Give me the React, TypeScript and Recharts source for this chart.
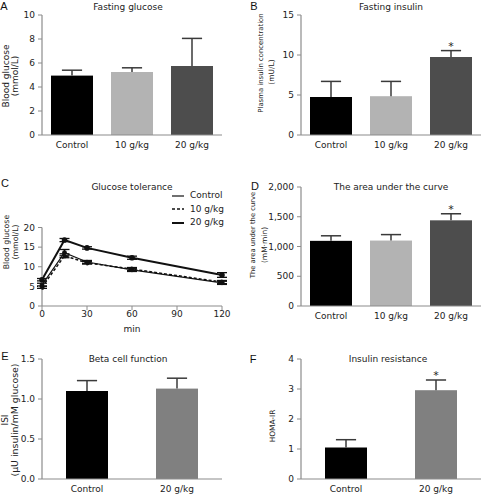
import { Bar, BarChart, ErrorBar, Legend, Line, LineChart, XAxis, YAxis } from "recharts";

const FONT = "'DejaVu Sans', Verdana, sans-serif";
const INK = "#222";
const AXIS = "#8c8c8c";

// groups
const groups3 = ["Control", "10 g/kg", "20 g/kg"];
const groups2 = ["Control", "20 g/kg"];

// A: fasting glucose (mmol/L)
const glucoseMean = [4.95, 5.25, 5.75];
const glucoseErr = [0.45, 0.35, 2.3];
// B: fasting insulin (mU/L)
const insulinMean = [4.75, 4.85, 9.75];
const insulinErr = [1.95, 1.85, 0.8];
// D: area under the curve
const aucMean = [1095, 1100, 1440];
const aucErr = [85, 100, 110];
// E: ISI
const isiMean = [1.1, 1.13];
const isiErr = [0.13, 0.13];
// F: HOMA-IR
const homaMean = [1.05, 2.96];
const homaErr = [0.26, 0.34];

const stars3 = [false, false, true];
const stars2 = [false, true];
const noStars3 = [false, false, false];
const noStars2 = [false, false];

// C: glucose tolerance
const minutes = [0, 15, 30, 60, 120];
const ctrlGlucose = [5.4, 13.6, 11.2, 9.2, 5.9];
const ctrlGlucoseErr = [0.4, 0.8, 0.4, 0.4, 0.4];
const g10Glucose = [4.8, 12.8, 11.0, 9.4, 6.1];
const g10GlucoseErr = [0.3, 0.5, 0.3, 0.4, 0.4];
const g20Glucose = [6.7, 16.8, 14.8, 12.3, 7.9];
const g20GlucoseErr = [0.3, 0.4, 0.3, 0.4, 0.6];

const fills3 = ["#000000", "#b3b3b3", "#4d4d4d"];
const fills2 = ["#000000", "#808080"];

const curveData = minutes.map((m, i) => ({
  min: m,
  ctrl: ctrlGlucose[i],
  ctrlErr: ctrlGlucoseErr[i],
  g10: g10Glucose[i],
  g10Err: g10GlucoseErr[i],
  g20: g20Glucose[i],
  g20Err: g20GlucoseErr[i]
}));

const curveStyles = [
  { name: "Control", width: 1.2, dash: undefined as string | undefined },
  { name: "10 g/kg", width: 1.5, dash: "3 2" },
  { name: "20 g/kg", width: 2, dash: undefined as string | undefined }
];

// y titles: each line has its x and y centre (chart-local) and a size
type TitleLine = { text: string; x: number; y: number; size: number };

function yTitle(lines: TitleLine[]) {
  return () => (
    <g>
      {lines.map((l) => (
        <text
          key={l.text}
          x={l.x}
          y={l.y}
          transform={`rotate(-90, ${l.x}, ${l.y})`}
          textAnchor="middle"
          dominantBaseline="central"
          fontSize={l.size}
          fontFamily={FONT}
          fill={INK}
        >
          {l.text}
        </text>
      ))}
    </g>
  );
}

function barWithError(fills: string[]) {
  return (p: any) => {
    const { x, y, width, height, index, payload } = p;
    const perUnit = height / payload.mean;
    const top = y - payload.err * perUnit;
    const cx = x + width / 2;
    return (
      <g>
        <rect x={x} y={y} width={width} height={height} fill={fills[index]} />
        <line x1={cx} x2={cx} y1={y} y2={top} stroke="#3a3a3a" strokeWidth={1.5} />
        <line x1={cx - width * 0.24} x2={cx + width * 0.24} y1={top} y2={top} stroke="#3a3a3a" strokeWidth={1.5} />
        {payload.star ? (
          <text x={cx} y={top - 1} textAnchor="middle" fontSize={11} fontFamily={FONT} fill={INK}>
            *
          </text>
        ) : null}
      </g>
    );
  };
}

type BarPanelProps = {
  left: number;
  top: number;
  width: number;
  height: number;
  axisX: number;
  plotTop: number;
  plotBottom: number;
  plotRight: number;
  groups: string[];
  means: number[];
  errs: number[];
  stars: boolean[];
  fills: string[];
  ticks: number[];
  fmt: (v: number) => string;
  title: TitleLine[];
  barSize: number;
};

function BarPanel(p: BarPanelProps) {
  const data = p.groups.map((g, i) => ({ group: g, mean: p.means[i], err: p.errs[i], star: p.stars[i] }));
  return (
    <div style={{ position: "absolute", left: p.left, top: p.top }}>
      <BarChart
        width={p.width}
        height={p.height}
        data={data}
        margin={{ top: p.plotTop, right: p.width - p.plotRight, left: 0, bottom: 0 }}
      >
        <XAxis
          dataKey="group"
          height={p.height - p.plotBottom}
          tickLine={false}
          axisLine={{ stroke: AXIS, strokeWidth: 1.2 }}
          tick={{ fill: INK, fontSize: 9, fontFamily: FONT }}
          tickMargin={1}
          interval={0}
        />
        <YAxis
          width={p.axisX}
          domain={[p.ticks[0], p.ticks[p.ticks.length - 1]]}
          ticks={p.ticks}
          interval={0}
          tickFormatter={p.fmt}
          tickSize={4}
          tickMargin={3}
          axisLine={{ stroke: AXIS, strokeWidth: 1.2 }}
          tickLine={{ stroke: AXIS }}
          tick={{ fill: INK, fontSize: 9, fontFamily: FONT }}
          label={{ content: yTitle(p.title) }}
        />
        <Bar dataKey="mean" barSize={p.barSize} isAnimationActive={false} shape={barWithError(p.fills)} />
      </BarChart>
    </div>
  );
}

function CurveLegend() {
  return (
    <div style={{ fontFamily: FONT, fontSize: 9, color: INK, lineHeight: "13.5px" }}>
      {curveStyles.map((s) => (
        <div key={s.name} style={{ display: "flex", alignItems: "center", height: 13.5 }}>
          <svg width={14} height={6} style={{ marginRight: 4 }}>
            <line x1={0} x2={12} y1={3} y2={3} stroke="#111" strokeWidth={s.width} strokeDasharray={s.dash} />
          </svg>
          <span>{s.name}</span>
        </div>
      ))}
    </div>
  );
}

function GlucoseCurve() {
  return (
    <div style={{ position: "absolute", left: 0, top: 165 }}>
      <LineChart width={240} height={170} data={curveData} margin={{ top: 22, right: 18, left: 0, bottom: 0 }}>
        <XAxis
          dataKey="min"
          type="number"
          domain={[0, 120]}
          ticks={[0, 30, 60, 90, 120]}
          interval={0}
          height={29}
          tickSize={4}
          tickMargin={1}
          axisLine={{ stroke: AXIS, strokeWidth: 1.2 }}
          tickLine={{ stroke: AXIS }}
          tick={{ fill: INK, fontSize: 9, fontFamily: FONT }}
          label={{ value: "min", position: "insideBottom", offset: 3, fill: INK, fontSize: 9, fontFamily: FONT }}
        />
        <YAxis
          width={42}
          domain={[0, 20]}
          ticks={[0, 5, 10, 15, 20]}
          interval={0}
          tickSize={4}
          tickMargin={3}
          axisLine={{ stroke: AXIS, strokeWidth: 1.2 }}
          tickLine={{ stroke: AXIS }}
          tick={{ fill: INK, fontSize: 9, fontFamily: FONT }}
          label={{
            content: yTitle([
              { text: "Blood glucose", x: 6, y: 77, size: 7.8 },
              { text: "(mmol/L)", x: 15, y: 77, size: 7.8 }
            ])
          }}
        />
        <Legend
          verticalAlign="top"
          align="right"
          content={() => <CurveLegend />}
          wrapperStyle={{ position: "absolute", left: 172, top: 24, width: 70 }}
        />
        <Line
          dataKey="g10"
          name="10 g/kg"
          stroke="#111"
          strokeWidth={1.5}
          strokeDasharray="3 2"
          dot={{ r: 1.8, fill: "#111", stroke: "#111" }}
          isAnimationActive={false}
        >
          <ErrorBar dataKey="g10Err" width={5} stroke="#111" strokeWidth={1.3} />
        </Line>
        <Line
          dataKey="ctrl"
          name="Control"
          stroke="#111"
          strokeWidth={1.2}
          dot={{ r: 1.8, fill: "#111", stroke: "#111" }}
          isAnimationActive={false}
        >
          <ErrorBar dataKey="ctrlErr" width={5} stroke="#111" strokeWidth={1.3} />
        </Line>
        <Line
          dataKey="g20"
          name="20 g/kg"
          stroke="#111"
          strokeWidth={2}
          dot={{ r: 1.8, fill: "#111", stroke: "#111" }}
          isAnimationActive={false}
        >
          <ErrorBar dataKey="g20Err" width={5} stroke="#111" strokeWidth={1.3} />
        </Line>
      </LineChart>
    </div>
  );
}

const titles = [
  { text: "Fasting glucose", x: 128, y: 7 },
  { text: "Fasting insulin", x: 391, y: 7 },
  { text: "Glucose tolerance", x: 132, y: 187 },
  { text: "The area under the curve", x: 391, y: 187 },
  { text: "Beta cell function", x: 128, y: 359 },
  { text: "Insulin resistance", x: 388, y: 359 }
];

const letters = [
  { text: "A", x: 4, y: 6 },
  { text: "B", x: 254, y: 6 },
  { text: "C", x: 5, y: 183 },
  { text: "D", x: 255, y: 186 },
  { text: "E", x: 5, y: 356 },
  { text: "F", x: 253, y: 359 }
];

const int = (v: number) => String(v);
const comma = (v: number) => v.toLocaleString("en-US");
const oneDec = (v: number) => v.toFixed(1);

export default function App() {
  return (
    <div
      style={{
        position: "absolute",
        left: 0,
        top: 0,
        width: 481,
        height: 495,
        background: "#fff",
        fontFamily: FONT,
        overflow: "hidden"
      }}
    >
      <BarPanel
        left={0}
        top={0}
        width={240}
        height={165}
        axisX={42}
        plotTop={15}
        plotBottom={135}
        plotRight={222}
        groups={groups3}
        means={glucoseMean}
        errs={glucoseErr}
        stars={noStars3}
        fills={fills3}
        ticks={[0, 2, 4, 6, 8, 10]}
        fmt={int}
        title={[
          { text: "Blood glucose", x: 6, y: 76, size: 9 },
          { text: "(mmol/L)", x: 15, y: 76, size: 9 }
        ]}
        barSize={42}
      />
      <BarPanel
        left={240}
        top={0}
        width={241}
        height={165}
        axisX={61}
        plotTop={15}
        plotBottom={135}
        plotRight={241}
        groups={groups3}
        means={insulinMean}
        errs={insulinErr}
        stars={stars3}
        fills={fills3}
        ticks={[0, 5, 10, 15]}
        fmt={int}
        title={[
          { text: "Plasma insulin concentration", x: 21, y: 63, size: 6.9 },
          { text: "(mU/L)", x: 31, y: 72, size: 7.5 }
        ]}
        barSize={42}
      />
      <GlucoseCurve />
      <BarPanel
        left={240}
        top={165}
        width={241}
        height={170}
        axisX={61}
        plotTop={22}
        plotBottom={141}
        plotRight={241}
        groups={groups3}
        means={aucMean}
        errs={aucErr}
        stars={stars3}
        fills={fills3}
        ticks={[0, 500, 1000, 1500, 2000]}
        fmt={comma}
        title={[
          { text: "The area under the curve", x: 13, y: 70, size: 6.8 },
          { text: "(mM·min)", x: 24, y: 80, size: 7.5 }
        ]}
        barSize={42}
      />
      <BarPanel
        left={0}
        top={335}
        width={240}
        height={160}
        axisX={42}
        plotTop={24}
        plotBottom={144}
        plotRight={222}
        groups={groups2}
        means={isiMean}
        errs={isiErr}
        stars={noStars2}
        fills={fills2}
        ticks={[0, 0.5, 1, 1.5]}
        fmt={oneDec}
        title={[
          { text: "ISI", x: 5, y: 85, size: 9 },
          { text: "(μU insulin/mM glucose)", x: 14, y: 85, size: 9.4 }
        ]}
        barSize={42}
      />
      <BarPanel
        left={240}
        top={335}
        width={241}
        height={160}
        axisX={61}
        plotTop={24}
        plotBottom={144}
        plotRight={241}
        groups={groups2}
        means={homaMean}
        errs={homaErr}
        stars={stars2}
        fills={fills2}
        ticks={[0, 1, 2, 3, 4]}
        fmt={int}
        title={[{ text: "HOMA-IR", x: 32, y: 91, size: 7.4 }]}
        barSize={42}
      />
      {titles.map((t) => (
        <div
          key={t.text}
          style={{
            position: "absolute",
            left: t.x,
            top: t.y,
            transform: "translate(-50%, -50%)",
            fontSize: 9,
            color: INK,
            whiteSpace: "nowrap"
          }}
        >
          {t.text}
        </div>
      ))}
      {letters.map((l) => (
        <div
          key={l.text}
          style={{
            position: "absolute",
            left: l.x,
            top: l.y,
            transform: "translate(-50%, -50%)",
            fontSize: 11,
            fontFamily: "'Liberation Sans', Arial, sans-serif",
            color: "#111"
          }}
        >
          {l.text}
        </div>
      ))}
    </div>
  );
}
